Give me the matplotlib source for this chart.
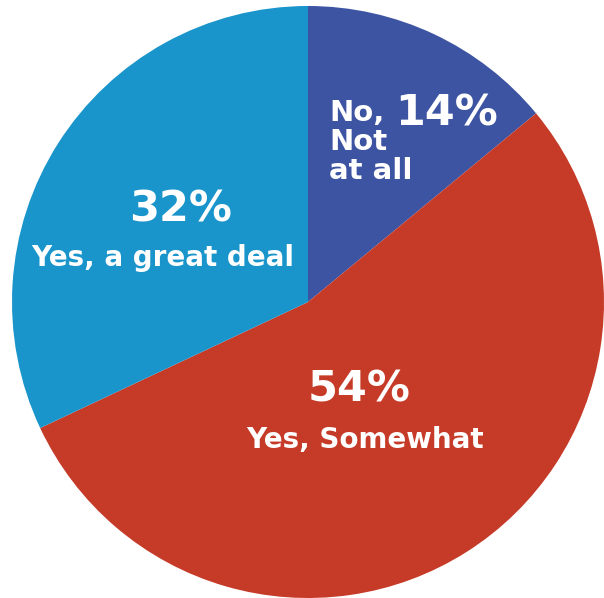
import matplotlib
matplotlib.use("Agg")
import matplotlib.pyplot as plt

labels = ["No,\nNot\nat all", "Yes, Somewhat", "Yes, a great deal"]
values = [14, 54, 32]
colors = ["#3D54A2", "#C63A28", "#1A95CB"]

W, H = 604, 598
fig = plt.figure(figsize=(W / 100, H / 100), dpi=100)
ax = fig.add_axes([0, 0, 1, 1])


def Y(y):
    # pixel row measured from the top -> data y
    return H - y


cx, cy, r = 308, 302, 296
ax.pie(values, colors=colors, startangle=90, counterclock=False,
       center=(cx, Y(cy)), radius=r, frame=True,
       wedgeprops=dict(linewidth=0))
ax.set_xlim(0, W)
ax.set_ylim(0, H)
ax.set_aspect("equal")
ax.axis("off")

font = "DejaVu Sans"
big = dict(color="white", fontsize=31, fontweight="bold", family=font,
           ha="center", va="baseline")
small = dict(color="white", fontsize=20, fontweight="bold", family=font,
             ha="center", va="baseline")

# 14% slice: value to the right, stacked label lines on the left
ax.text(447, Y(125), f"{values[0]}%", **big)
for i, line in enumerate(labels[0].split("\n")):
    ax.text(329, Y(121 + 29 * i), line, color="white", fontsize=21,
            fontweight="bold", family=font, ha="left", va="baseline")

# 54% slice
ax.text(359, Y(401), f"{values[1]}%", **big)
ax.text(365, Y(448), labels[1], **small)

# 32% slice
ax.text(180, Y(221), f"{values[2]}%", **big)
ax.text(163, Y(266), labels[2], **small)

fig.savefig("out.png", dpi=100)
